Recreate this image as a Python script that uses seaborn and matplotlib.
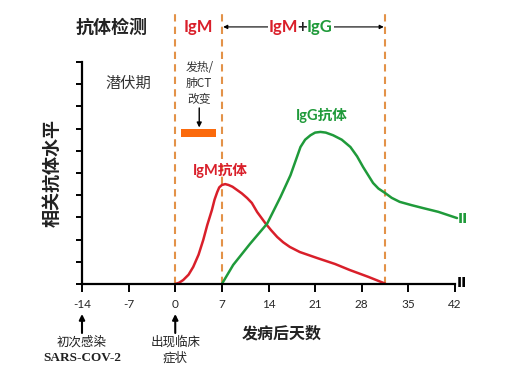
import matplotlib
matplotlib.use("Agg")
import matplotlib.pyplot as plt
import seaborn as sns
import pandas as pd
from matplotlib.patches import Rectangle

# ---- data ----
igm_days = [0, 0.6, 1.2, 2.0, 2.7, 3.5, 4.2, 4.8, 5.5, 5.9, 6.3, 6.6, 7.0, 7.5, 8.0,
            8.6, 9.3, 10.0, 10.8, 11.5, 12.3, 13.5, 14.4, 15.3, 16.2, 17.2, 18.7,
            21.3, 24.0, 26.2, 29.0, 31.5]
igm_level = [0, 0.06, 0.18, 0.42, 0.77, 1.32, 1.98, 2.65, 3.33, 3.8, 4.14, 4.35, 4.46,
             4.5, 4.46, 4.38, 4.23, 4.08, 3.87, 3.65, 3.24, 2.75, 2.42, 2.12, 1.88,
             1.67, 1.44, 1.17, 0.9, 0.63, 0.32, 0.02]
igg_days = [7.0, 8.7, 11.2, 13.8, 15.8, 17.3, 18.8, 19.5, 20.3, 21.0, 21.8, 22.6, 23.7,
            25.0, 26.3, 27.3, 28.2, 29.7, 30.5, 31.5, 32.5, 33.7, 35.5, 37.2, 39.5, 42.3]
igg_level = [0, 0.86, 1.8, 2.72, 3.92, 4.9, 6.17, 6.5, 6.7, 6.82, 6.85, 6.82, 6.7,
             6.5, 6.17, 5.75, 5.27, 4.55, 4.3, 4.1, 3.88, 3.7, 3.55, 3.42, 3.25, 2.97]
x_ticks = [-14, -7, 0, 7, 14, 21, 28, 35, 42]
y_ticks = list(range(0, 11))
phase_lines = [0, 7, 31.5]

RED = "#d91f2a"
GREEN = "#1f9a3a"
ORANGE = "#e39248"
BAR = "#fb6a0c"

sns.set_style("ticks")
plt.rcParams['font.family'] = ['Noto Sans CJK SC', 'DejaVu Sans']

fig = plt.figure(figsize=(5.14, 3.69), dpi=100)
ax = fig.add_axes([82/514, 85/369, 373/514, 222/369])

df = pd.concat([
    pd.DataFrame({"day": igm_days, "level": igm_level, "ab": "IgM"}),
    pd.DataFrame({"day": igg_days, "level": igg_level, "ab": "IgG"}),
])
sns.lineplot(data=df, x="day", y="level", hue="ab", palette={"IgM": RED, "IgG": GREEN},
             estimator=None, sort=False, lw=1.8, legend=False, ax=ax)
for l in ax.lines:
    l.set_clip_on(False)
    l.set_solid_joinstyle('round')

ax.set_xlim(-14, 42)
ax.set_ylim(0, 10)
ax.set_xticks(x_ticks)
ax.set_xticklabels([str(t) for t in x_ticks], family=['Lato', 'DejaVu Sans'], fontsize=8.5)
ax.set_yticks(y_ticks)
ax.set_yticklabels([])
ax.tick_params(axis='x', length=6, width=1.4, pad=5, color='black')
ax.tick_params(axis='y', length=4, width=1.4, color='black')
ax.set_xlabel("")
ax.set_ylabel("")
for s in ["top", "right"]:
    ax.spines[s].set_visible(False)
for s in ["left", "bottom"]:
    ax.spines[s].set_linewidth(1.6)
    ax.spines[s].set_color("black")

# dashed phase lines
ax.vlines(phase_lines, 0, 12.25, colors=ORANGE, linestyles=(0, (3.5, 2.5)), lw=1.5,
          clip_on=False, zorder=1)

# top annotations
ytop = 11.58
ax.text(-9.5, ytop, "抗体检测", fontsize=13, fontweight='bold', ha='center', va='center',
        color='#222222')
ax.text(3.5, ytop, "IgM", fontsize=12, fontweight='bold', ha='center', va='center',
        color=RED, family=['Lato', 'DejaVu Sans'])
ax.annotate('', xy=(7.2, ytop), xytext=(31.3, ytop),
            arrowprops=dict(arrowstyle='<|-|>', lw=0.8, color='black',
                            mutation_scale=6, shrinkA=0, shrinkB=0),
            annotation_clip=False)
cx = 19.05
ax.add_patch(Rectangle((13.9, ytop - 0.45), 10.0, 0.9, facecolor='white',
                       edgecolor='none', clip_on=False, zorder=4))
ax.text(cx, ytop, "+", fontsize=12, fontweight='bold', ha='center', va='center',
        color='#222222', family=['Lato', 'DejaVu Sans'], zorder=5)
ax.text(cx - 0.6, ytop, "IgM", fontsize=12, fontweight='bold', ha='right', va='center',
        color=RED, family=['Lato', 'DejaVu Sans'], zorder=5)
ax.text(cx + 0.6, ytop, "IgG", fontsize=12, fontweight='bold', ha='left', va='center',
        color=GREEN, family=['Lato', 'DejaVu Sans'], zorder=5)

# in-plot annotations
ax.text(-7.0, 9.05, "潜伏期", fontsize=11, ha='center', va='center', color='#333333')
ax.text(3.6, 9.05, "发热/\n肺CT\n改变", fontsize=8.5, ha='center', va='center',
        color='#333333', linespacing=1.3)
ax.annotate('', xy=(3.6, 7.05), xytext=(3.6, 7.93),
            arrowprops=dict(arrowstyle='-|>', lw=1.0, color='black', mutation_scale=7,
                            shrinkA=0, shrinkB=0), annotation_clip=False)
ax.add_patch(Rectangle((0.9, 6.62), 5.25, 0.36, facecolor=BAR, edgecolor='none',
                       clip_on=False, zorder=3))
ax.text(6.75, 5.1, "IgM抗体", fontsize=10.5, fontweight='bold', ha='center', va='center',
        color=RED, family=['Lato', 'Noto Sans CJK SC'])
ax.text(22.0, 7.6, "IgG抗体", fontsize=10.5, fontweight='bold', ha='center', va='center',
        color=GREEN, family=['Lato', 'Noto Sans CJK SC'])

# break marks
ax.text(43.2, 2.95, "II", fontsize=10, fontweight='bold', ha='center', va='center',
        color=GREEN, family=['DejaVu Sans'])
ax.text(43.1, 0.05, "II", fontsize=10, fontweight='bold', ha='center', va='center',
        color='black', family=['DejaVu Sans'])

# y label
ax.text(-0.082, 0.5, "相关抗体水平", transform=ax.transAxes, rotation=90, fontsize=13,
        fontweight='bold', ha='center', va='center', color='#222222')

# bottom annotations (axes-fraction in y via blended transform)
trans = ax.get_xaxis_transform()
def ypx(p):
    return (284 - p) / 222.0

ax.text(16.0, ypx(333), "发病后天数", transform=trans, fontsize=11.5, fontweight='bold',
        ha='center', va='center', color='#222222')
for xd in [-14, 0]:
    ax.annotate('', xy=(xd, ypx(314)), xytext=(xd, ypx(333)), xycoords=trans,
                textcoords=trans,
                arrowprops=dict(arrowstyle='-|>', lw=1.5, color='black', mutation_scale=8,
                                shrinkA=0, shrinkB=0), annotation_clip=False)
ax.text(-14, ypx(342), "初次感染", transform=trans, fontsize=9, ha='center', va='center',
        color='#222222')
ax.text(-14, ypx(358), "SARS-COV-2", transform=trans, fontsize=9.5, fontweight='bold',
        ha='center', va='center', color='#222222', family=['Liberation Serif'])
ax.text(0, ypx(342), "出现临床", transform=trans, fontsize=9, ha='center', va='center',
        color='#222222')
ax.text(0, ypx(358), "症状", transform=trans, fontsize=9, ha='center', va='center',
        color='#222222')

fig.savefig("out.png", dpi=100)
